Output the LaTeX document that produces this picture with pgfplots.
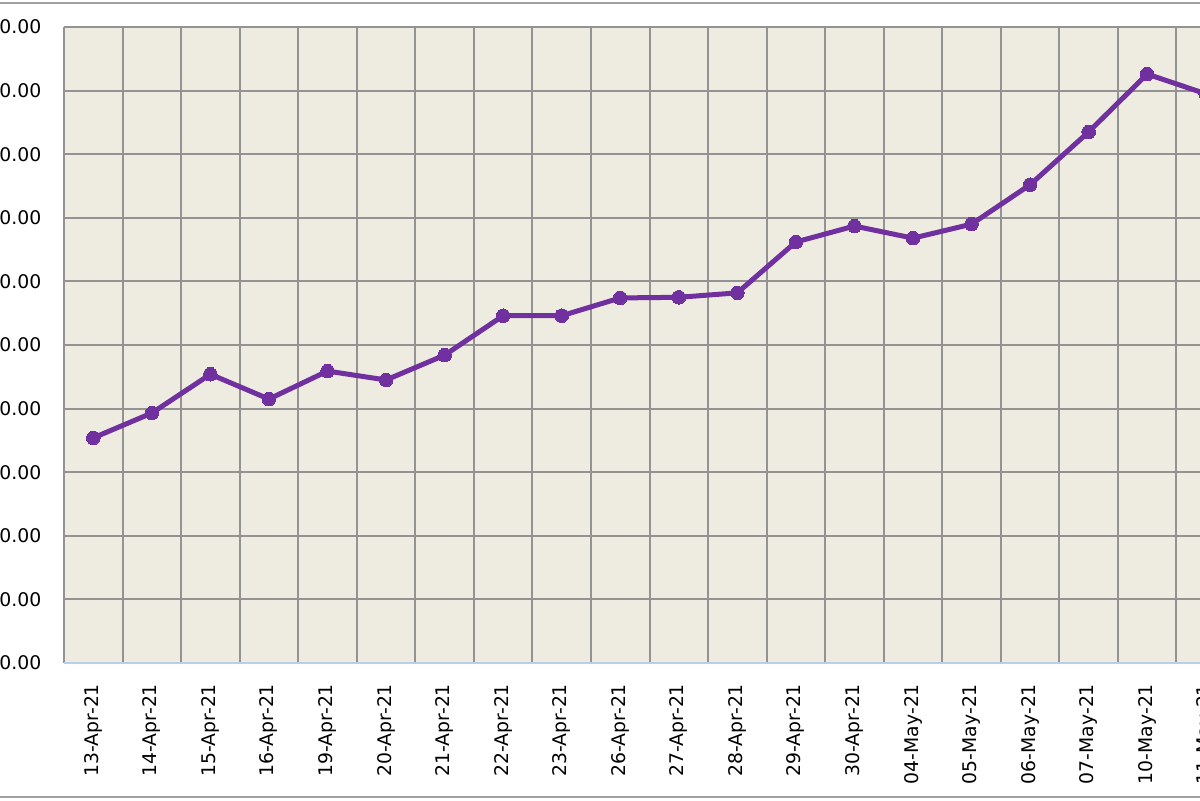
\documentclass[border=0pt]{standalone}
\usepackage{fontspec}
\setmainfont{DejaVu Sans}
\usepackage{pgfplots}
\pgfplotsset{compat=1.18}

\definecolor{plotbg}{HTML}{EEEBE0}
\definecolor{gridgray}{HTML}{939393}
\definecolor{linepurple}{HTML}{7030A0}
\definecolor{framegray}{HTML}{A0A0A0}
\definecolor{xaxisblue}{HTML}{BCCDE8}

\begin{document}
\begin{tikzpicture}[x=1pt,y=1pt]
\fill[white] (0,0) rectangle (600,400);
\clip (0,0) rectangle (600,400);
\draw[overlay, framegray, line width=1pt] (-5,1.5) rectangle (610,398.5);
\begin{axis}[
  overlay,
  at={(32pt,68.5pt)}, anchor=south west,
  scale only axis, width=585.5pt, height=318pt,
  xmin=-0.5, xmax=19.5, ymin=10, ymax=110,
  ytick={10,20,...,110},
  xtick={0,...,19},
  xticklabels={13-Apr-21,14-Apr-21,15-Apr-21,16-Apr-21,19-Apr-21,20-Apr-21,
    21-Apr-21,22-Apr-21,23-Apr-21,26-Apr-21,27-Apr-21,28-Apr-21,29-Apr-21,
    30-Apr-21,04-May-21,05-May-21,06-May-21,07-May-21,10-May-21,11-May-21},
  minor xtick={-0.5,0.5,...,19.5},
  xmajorgrids=false, xminorgrids=true, ymajorgrids=true,
  major tick length=0pt, minor tick length=0pt,
  grid style={gridgray, line width=1pt},
  minor grid style={gridgray, line width=1pt},
  axis line style={draw=none},
  axis background/.style={fill=plotbg},
  /pgf/number format/assume math mode=true,
  yticklabel={\pgfmathprintnumber[fixed,fixed zerofill,precision=2]{\tick}},
  yticklabel style={font=\fontsize{9.4}{11}\selectfont, anchor=east, xshift=-7.8pt},
  xticklabel style={font=\fontsize{9.4}{11}\selectfont, rotate=90, anchor=east, xshift=-7pt},
]
\addplot[linepurple, line width=2.5pt, mark=*, mark size=3.4pt,
  mark options={fill=linepurple, draw=linepurple, line width=0pt}]
  coordinates {
    (0,45.4) (1,49.3) (2,55.4) (3,51.5) (4,55.9) (5,54.5) (6,58.4)
    (7,64.6) (8,64.6) (9,67.4) (10,67.5) (11,68.2) (12,76.2) (13,78.7)
    (14,76.8) (15,79.0) (16,85.2) (17,93.5) (18,102.6) (19,99.5)
  };
\draw[xaxisblue, line width=0.75pt] (axis cs:-0.5,10) -- (axis cs:19.5,10);
\end{axis}
\end{tikzpicture}
\end{document}
